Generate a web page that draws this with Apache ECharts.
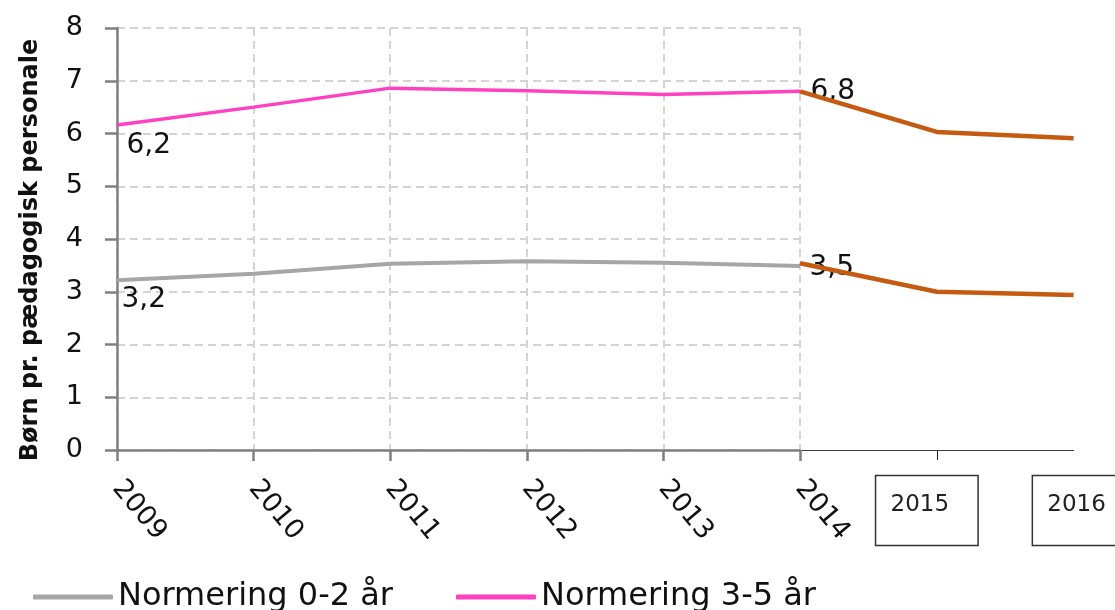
<!DOCTYPE html>
<html>
<head>
<meta charset="utf-8">
<script src="https://cdn.jsdelivr.net/npm/echarts@6/dist/echarts.min.js"></script>
<style>
html,body{margin:0;padding:0;background:#fff;}
#c{width:1115px;height:610px;}
</style>
</head>
<body>
<div id="c"></div>
<script>
// ---- data ----
const years = ['2009', '2010', '2011', '2012', '2013', '2014'];
const forecastYears = ['2014', '2015', '2016'];
const norm02 = [3.22, 3.34, 3.53, 3.58, 3.55, 3.49];
const norm35 = [6.16, 6.50, 6.86, 6.81, 6.74, 6.80];
const forecast02 = [3.54, 3.00, 2.94];
const forecast35 = [6.80, 6.03, 5.91];
const yTicks = [0, 1, 2, 3, 4, 5, 6, 7, 8];
const seriesNames = ['Normering 0-2 år', 'Normering 3-5 år'];
const yTitle = 'Børn pr. pædagogisk personale';

const FONT = 'DejaVu Sans';
const GRAY = '#a6a6a6', PINK = '#ff40c0', ORANGE = '#c55a11';
const fmt = v => v.toFixed(1).replace('.', ',');

function withLabels(values, offsets) {
  return values.map((v, i) => {
    if (offsets[i]) {
      return {
        value: v,
        label: {
          show: true, position: 'right', offset: offsets[i],
          formatter: p => fmt(p.value),
          fontFamily: FONT, fontSize: 28, color: '#111'
        }
      };
    }
    return v;
  });
}

const chart = echarts.init(document.getElementById('c'), null, {renderer: 'canvas'});
const gridTop = 28, gridBottom = 160;
const hiddenSymbol = {color: 'rgba(0,0,0,0)', borderWidth: 0};

chart.setOption({
  backgroundColor: '#fff',
  animation: false,
  grid: [
    {left: 117, top: gridTop, width: 683, bottom: gridBottom, outerBoundsMode: 'none', containLabel: false},
    {left: 800, top: gridTop, right: 41.4, bottom: gridBottom, outerBoundsMode: 'none', containLabel: false}
  ],
  legend: {
    data: [
      {name: seriesNames[0], itemStyle: {color: GRAY, borderWidth: 0}},
      {name: seriesNames[1], itemStyle: {color: PINK, borderWidth: 0}}
    ],
    left: 33, top: 581, padding: 0,
    itemWidth: 80, itemHeight: 5, itemGap: 63,
    icon: 'roundRect',
    textStyle: {fontFamily: FONT, fontSize: 32, color: '#111', lineHeight: 32}
  },
  xAxis: [
    {
      type: 'category', gridIndex: 0, data: years, boundaryGap: false,
      axisLine: {lineStyle: {color: '#808080', width: 2.5}},
      axisTick: {show: true, length: 11, lineStyle: {color: '#808080', width: 2.5}, alignWithLabel: true},
      axisLabel: {interval: 0, rotate: -50, margin: 34, fontFamily: FONT, fontSize: 27, color: '#111'},
      splitLine: {show: true, lineStyle: {color: '#d4d4d4', width: 2, type: [8, 5]}}
    },
    {
      type: 'category', gridIndex: 1, data: forecastYears, boundaryGap: false,
      axisLine: {lineStyle: {color: '#404040', width: 1.2}},
      axisTick: {show: true, length: 10, interval: (i) => i === 1, lineStyle: {color: '#222', width: 1}},
      axisLabel: {
        interval: 0, margin: 47,
        formatter: v => v === '2015' ? '{b|2015}{s|}' : (v === '2016' ? '{s|}{b|2016}' : ''),
        rich: {
          b: {fontFamily: FONT, fontSize: 23, color: '#222', lineHeight: 27,
              borderColor: '#333', borderWidth: 1.5, padding: [18, 29, 29, 15]},
          s: {width: 20}
        }
      },
      splitLine: {show: false}
    }
  ],
  yAxis: [
    {
      type: 'value', gridIndex: 0, min: 0, max: 8, interval: 1,
      name: yTitle, nameLocation: 'middle', nameGap: 74,
      nameTextStyle: {fontFamily: FONT, fontSize: 24, fontWeight: 'bold', color: '#111', padding: [0, 22, 0, 0]},
      axisLine: {show: true, lineStyle: {color: '#808080', width: 2.5}},
      axisTick: {show: true, length: 12, lineStyle: {color: '#808080', width: 2.5}},
      axisLabel: {margin: 34, fontFamily: FONT, fontSize: 27, color: '#111',
                  formatter: v => yTicks.includes(v) ? String(v) : ''},
      splitLine: {show: true, lineStyle: {color: '#d4d4d4', width: 2, type: [8, 5]}}
    },
    {
      type: 'value', gridIndex: 1, min: 0, max: 8, interval: 1, show: false,
      splitLine: {show: false}
    }
  ],
  series: [
    {
      name: seriesNames[0], type: 'line', xAxisIndex: 0, yAxisIndex: 0, z: 2,
      symbol: 'circle', symbolSize: 1, showSymbol: true, itemStyle: hiddenSymbol,
      color: GRAY,
      lineStyle: {color: GRAY, width: 4},
      data: withLabels(norm02, {0: [-1, 20], 5: [4, 2]})
    },
    {
      name: seriesNames[1], type: 'line', xAxisIndex: 0, yAxisIndex: 0, z: 2,
      symbol: 'circle', symbolSize: 1, showSymbol: true, itemStyle: hiddenSymbol,
      color: PINK,
      lineStyle: {color: PINK, width: 3.5},
      data: withLabels(norm35, {0: [4, 21], 5: [5, 0]})
    },
    {
      name: 'Prognose 0-2 år', type: 'line', xAxisIndex: 1, yAxisIndex: 1, z: 5,
      symbol: 'none', color: ORANGE,
      lineStyle: {color: ORANGE, width: 4.5},
      data: forecast02
    },
    {
      name: 'Prognose 3-5 år', type: 'line', xAxisIndex: 1, yAxisIndex: 1, z: 5,
      symbol: 'none', color: ORANGE,
      lineStyle: {color: ORANGE, width: 4.5},
      data: forecast35
    }
  ]
});
</script>
</body>
</html>
